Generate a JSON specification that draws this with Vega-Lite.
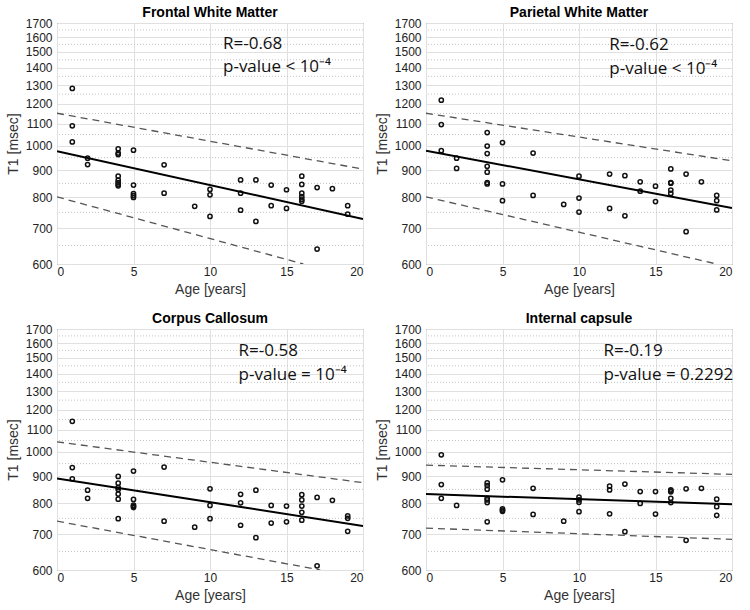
{
  "$schema": "https://vega.github.io/schema/vega-lite/v6.json",
  "padding": {"left": 5, "top": 5, "right": 5, "bottom": 5},
  "background": "white",
  "datasets": {
    "minor": [{"t1": 650}, {"t1": 750}, {"t1": 850}, {"t1": 950}, {"t1": 1050}, {"t1": 1150}, {"t1": 1250}, {"t1": 1350}, {"t1": 1450}, {"t1": 1550}, {"t1": 1650}],
    "pts": [
      {"panel": "FWM", "age": 1, "t1": 1281}, {"panel": "FWM", "age": 1, "t1": 1090}, {"panel": "FWM", "age": 1, "t1": 1017},
      {"panel": "FWM", "age": 2, "t1": 948}, {"panel": "FWM", "age": 2, "t1": 922},
      {"panel": "FWM", "age": 4, "t1": 987}, {"panel": "FWM", "age": 4, "t1": 969}, {"panel": "FWM", "age": 4, "t1": 963}, {"panel": "FWM", "age": 4, "t1": 877}, {"panel": "FWM", "age": 4, "t1": 862}, {"panel": "FWM", "age": 4, "t1": 853}, {"panel": "FWM", "age": 4, "t1": 847}, {"panel": "FWM", "age": 4, "t1": 841},
      {"panel": "FWM", "age": 5, "t1": 981}, {"panel": "FWM", "age": 5, "t1": 844}, {"panel": "FWM", "age": 5, "t1": 813}, {"panel": "FWM", "age": 5, "t1": 806}, {"panel": "FWM", "age": 5, "t1": 800},
      {"panel": "FWM", "age": 7, "t1": 921}, {"panel": "FWM", "age": 7, "t1": 815},
      {"panel": "FWM", "age": 9, "t1": 770},
      {"panel": "FWM", "age": 10, "t1": 828}, {"panel": "FWM", "age": 10, "t1": 809}, {"panel": "FWM", "age": 10, "t1": 737},
      {"panel": "FWM", "age": 12, "t1": 863}, {"panel": "FWM", "age": 12, "t1": 815}, {"panel": "FWM", "age": 12, "t1": 757},
      {"panel": "FWM", "age": 13, "t1": 863}, {"panel": "FWM", "age": 13, "t1": 721},
      {"panel": "FWM", "age": 14, "t1": 844}, {"panel": "FWM", "age": 14, "t1": 772},
      {"panel": "FWM", "age": 15, "t1": 827}, {"panel": "FWM", "age": 15, "t1": 763},
      {"panel": "FWM", "age": 16, "t1": 877}, {"panel": "FWM", "age": 16, "t1": 846}, {"panel": "FWM", "age": 16, "t1": 815}, {"panel": "FWM", "age": 16, "t1": 803}, {"panel": "FWM", "age": 16, "t1": 794}, {"panel": "FWM", "age": 16, "t1": 787},
      {"panel": "FWM", "age": 17, "t1": 835}, {"panel": "FWM", "age": 17, "t1": 640},
      {"panel": "FWM", "age": 18, "t1": 831},
      {"panel": "FWM", "age": 19, "t1": 772}, {"panel": "FWM", "age": 19, "t1": 744},

      {"panel": "PWM", "age": 1, "t1": 1218}, {"panel": "PWM", "age": 1, "t1": 1096}, {"panel": "PWM", "age": 1, "t1": 979},
      {"panel": "PWM", "age": 2, "t1": 948}, {"panel": "PWM", "age": 2, "t1": 907},
      {"panel": "PWM", "age": 4, "t1": 1059}, {"panel": "PWM", "age": 4, "t1": 999}, {"panel": "PWM", "age": 4, "t1": 967}, {"panel": "PWM", "age": 4, "t1": 915}, {"panel": "PWM", "age": 4, "t1": 892}, {"panel": "PWM", "age": 4, "t1": 853}, {"panel": "PWM", "age": 4, "t1": 848},
      {"panel": "PWM", "age": 5, "t1": 1014}, {"panel": "PWM", "age": 5, "t1": 848}, {"panel": "PWM", "age": 5, "t1": 789},
      {"panel": "PWM", "age": 7, "t1": 969}, {"panel": "PWM", "age": 7, "t1": 807},
      {"panel": "PWM", "age": 9, "t1": 776},
      {"panel": "PWM", "age": 10, "t1": 877}, {"panel": "PWM", "age": 10, "t1": 798}, {"panel": "PWM", "age": 10, "t1": 751},
      {"panel": "PWM", "age": 12, "t1": 885}, {"panel": "PWM", "age": 12, "t1": 763},
      {"panel": "PWM", "age": 13, "t1": 879}, {"panel": "PWM", "age": 13, "t1": 739},
      {"panel": "PWM", "age": 14, "t1": 856}, {"panel": "PWM", "age": 14, "t1": 822},
      {"panel": "PWM", "age": 15, "t1": 840}, {"panel": "PWM", "age": 15, "t1": 786},
      {"panel": "PWM", "age": 16, "t1": 905}, {"panel": "PWM", "age": 16, "t1": 853}, {"panel": "PWM", "age": 16, "t1": 851}, {"panel": "PWM", "age": 16, "t1": 826}, {"panel": "PWM", "age": 16, "t1": 814},
      {"panel": "PWM", "age": 17, "t1": 885}, {"panel": "PWM", "age": 17, "t1": 690},
      {"panel": "PWM", "age": 18, "t1": 856},
      {"panel": "PWM", "age": 19, "t1": 807}, {"panel": "PWM", "age": 19, "t1": 789}, {"panel": "PWM", "age": 19, "t1": 758},

      {"panel": "CC", "age": 1, "t1": 1141}, {"panel": "CC", "age": 1, "t1": 934}, {"panel": "CC", "age": 1, "t1": 890},
      {"panel": "CC", "age": 2, "t1": 847}, {"panel": "CC", "age": 2, "t1": 818},
      {"panel": "CC", "age": 4, "t1": 899}, {"panel": "CC", "age": 4, "t1": 873}, {"panel": "CC", "age": 4, "t1": 857}, {"panel": "CC", "age": 4, "t1": 850}, {"panel": "CC", "age": 4, "t1": 833}, {"panel": "CC", "age": 4, "t1": 815}, {"panel": "CC", "age": 4, "t1": 749},
      {"panel": "CC", "age": 5, "t1": 920}, {"panel": "CC", "age": 5, "t1": 814}, {"panel": "CC", "age": 5, "t1": 794}, {"panel": "CC", "age": 5, "t1": 790}, {"panel": "CC", "age": 5, "t1": 786},
      {"panel": "CC", "age": 7, "t1": 936}, {"panel": "CC", "age": 7, "t1": 741},
      {"panel": "CC", "age": 9, "t1": 722},
      {"panel": "CC", "age": 10, "t1": 852}, {"panel": "CC", "age": 10, "t1": 793}, {"panel": "CC", "age": 10, "t1": 749},
      {"panel": "CC", "age": 12, "t1": 832}, {"panel": "CC", "age": 12, "t1": 802}, {"panel": "CC", "age": 12, "t1": 728},
      {"panel": "CC", "age": 13, "t1": 847}, {"panel": "CC", "age": 13, "t1": 690},
      {"panel": "CC", "age": 14, "t1": 793}, {"panel": "CC", "age": 14, "t1": 735},
      {"panel": "CC", "age": 15, "t1": 791}, {"panel": "CC", "age": 15, "t1": 739},
      {"panel": "CC", "age": 16, "t1": 831}, {"panel": "CC", "age": 16, "t1": 812}, {"panel": "CC", "age": 16, "t1": 791}, {"panel": "CC", "age": 16, "t1": 770}, {"panel": "CC", "age": 16, "t1": 744},
      {"panel": "CC", "age": 17, "t1": 821}, {"panel": "CC", "age": 17, "t1": 611},
      {"panel": "CC", "age": 18, "t1": 811},
      {"panel": "CC", "age": 19, "t1": 758}, {"panel": "CC", "age": 19, "t1": 750}, {"panel": "CC", "age": 19, "t1": 709},

      {"panel": "IC", "age": 1, "t1": 987}, {"panel": "IC", "age": 1, "t1": 868}, {"panel": "IC", "age": 1, "t1": 818},
      {"panel": "IC", "age": 2, "t1": 793},
      {"panel": "IC", "age": 4, "t1": 874}, {"panel": "IC", "age": 4, "t1": 864}, {"panel": "IC", "age": 4, "t1": 851}, {"panel": "IC", "age": 4, "t1": 818}, {"panel": "IC", "age": 4, "t1": 812}, {"panel": "IC", "age": 4, "t1": 803}, {"panel": "IC", "age": 4, "t1": 739},
      {"panel": "IC", "age": 5, "t1": 886}, {"panel": "IC", "age": 5, "t1": 781}, {"panel": "IC", "age": 5, "t1": 777}, {"panel": "IC", "age": 5, "t1": 773},
      {"panel": "IC", "age": 7, "t1": 854}, {"panel": "IC", "age": 7, "t1": 763},
      {"panel": "IC", "age": 9, "t1": 741},
      {"panel": "IC", "age": 10, "t1": 822}, {"panel": "IC", "age": 10, "t1": 812}, {"panel": "IC", "age": 10, "t1": 804}, {"panel": "IC", "age": 10, "t1": 772},
      {"panel": "IC", "age": 12, "t1": 862}, {"panel": "IC", "age": 12, "t1": 848}, {"panel": "IC", "age": 12, "t1": 765},
      {"panel": "IC", "age": 13, "t1": 870}, {"panel": "IC", "age": 13, "t1": 708},
      {"panel": "IC", "age": 14, "t1": 842}, {"panel": "IC", "age": 14, "t1": 800},
      {"panel": "IC", "age": 15, "t1": 842}, {"panel": "IC", "age": 15, "t1": 764},
      {"panel": "IC", "age": 16, "t1": 848}, {"panel": "IC", "age": 16, "t1": 845}, {"panel": "IC", "age": 16, "t1": 841}, {"panel": "IC", "age": 16, "t1": 818}, {"panel": "IC", "age": 16, "t1": 803},
      {"panel": "IC", "age": 17, "t1": 852}, {"panel": "IC", "age": 17, "t1": 682},
      {"panel": "IC", "age": 18, "t1": 854},
      {"panel": "IC", "age": 19, "t1": 815}, {"panel": "IC", "age": 19, "t1": 789}, {"panel": "IC", "age": 19, "t1": 760}
    ],
    "fits": [
      {"panel": "FWM", "kind": "fit", "age": 0, "t1": 977}, {"panel": "FWM", "kind": "fit", "age": 20, "t1": 729},
      {"panel": "FWM", "kind": "upper", "age": 0, "t1": 1151}, {"panel": "FWM", "kind": "upper", "age": 20, "t1": 904},
      {"panel": "FWM", "kind": "lower", "age": 0, "t1": 802}, {"panel": "FWM", "kind": "lower", "age": 16.1, "t1": 600},
      {"panel": "PWM", "kind": "fit", "age": 0, "t1": 979}, {"panel": "PWM", "kind": "fit", "age": 20, "t1": 764},
      {"panel": "PWM", "kind": "upper", "age": 0, "t1": 1151}, {"panel": "PWM", "kind": "upper", "age": 20, "t1": 937},
      {"panel": "PWM", "kind": "lower", "age": 0, "t1": 802}, {"panel": "PWM", "kind": "lower", "age": 19, "t1": 600},
      {"panel": "CC", "kind": "fit", "age": 0, "t1": 891}, {"panel": "CC", "kind": "fit", "age": 20, "t1": 726},
      {"panel": "CC", "kind": "upper", "age": 0, "t1": 1044}, {"panel": "CC", "kind": "upper", "age": 20, "t1": 875},
      {"panel": "CC", "kind": "lower", "age": 0, "t1": 741}, {"panel": "CC", "kind": "lower", "age": 17.2, "t1": 600},
      {"panel": "IC", "kind": "fit", "age": 0, "t1": 833}, {"panel": "IC", "kind": "fit", "age": 20, "t1": 797},
      {"panel": "IC", "kind": "upper", "age": 0, "t1": 944}, {"panel": "IC", "kind": "upper", "age": 20, "t1": 907},
      {"panel": "IC", "kind": "lower", "age": 0, "t1": 719}, {"panel": "IC", "kind": "lower", "age": 20, "t1": 685}
    ],
    "notes": [
      {"panel": "FWM", "age": 10.85, "t1": 1517, "label": "R=-0.68"}, {"panel": "FWM", "age": 10.85, "t1": 1376, "label": "p-value < 10⁻⁴"},
      {"panel": "PWM", "age": 11.98, "t1": 1510, "label": "R=-0.62"}, {"panel": "PWM", "age": 11.98, "t1": 1366, "label": "p-value < 10⁻⁴"},
      {"panel": "CC", "age": 11.87, "t1": 1510, "label": "R=-0.58"}, {"panel": "CC", "age": 11.87, "t1": 1366, "label": "p-value = 10⁻⁴"},
      {"panel": "IC", "age": 11.6, "t1": 1510, "label": "R=-0.19"}, {"panel": "IC", "age": 11.6, "t1": 1366, "label": "p-value = 0.2292"}
    ]
  },
  "concat": [
    {
      "title": "Frontal White Matter", "width": 306, "height": 241,
      "layer": [
        {"data": {"name": "minor"}, "mark": {"type": "rule", "color": "#c4c4c4", "strokeDash": [1, 2], "strokeWidth": 1},
         "encoding": {"y": {"field": "t1", "type": "quantitative", "scale": {"type": "log", "domain": [600, 1700], "nice": false}, "axis": {"title": "T1 [msec]", "values": [600, 700, 800, 900, 1000, 1100, 1200, 1300, 1400, 1500, 1600, 1700], "format": "d"}}}},
        {"data": {"name": "pts"}, "transform": [{"filter": "datum.panel === 'FWM'"}], "mark": {"type": "point", "shape": "circle", "filled": false, "size": 18, "strokeWidth": 1.5, "color": "#111", "opacity": 1},
         "encoding": {"x": {"field": "age", "type": "quantitative", "scale": {"domain": [0, 20], "nice": false}, "axis": {"title": "Age [years]", "values": [0, 5, 10, 15, 20]}}, "y": {"field": "t1", "type": "quantitative"}}},
        {"data": {"name": "fits"}, "transform": [{"filter": "datum.panel === 'FWM' && datum.kind === 'fit'"}], "mark": {"type": "line", "color": "#000", "strokeWidth": 2, "clip": true},
         "encoding": {"x": {"field": "age", "type": "quantitative"}, "y": {"field": "t1", "type": "quantitative"}}},
        {"data": {"name": "fits"}, "transform": [{"filter": "datum.panel === 'FWM' && datum.kind !== 'fit'"}], "mark": {"type": "line", "color": "#555", "strokeWidth": 1.3, "strokeDash": [7, 5], "clip": true},
         "encoding": {"x": {"field": "age", "type": "quantitative"}, "y": {"field": "t1", "type": "quantitative"}, "detail": {"field": "kind"}}},
        {"data": {"name": "notes"}, "transform": [{"filter": "datum.panel === 'FWM'"}], "mark": {"type": "text", "align": "left", "baseline": "alphabetic", "font": "Open Sans", "fontSize": 17, "color": "#111"},
         "encoding": {"x": {"field": "age", "type": "quantitative"}, "y": {"field": "t1", "type": "quantitative"}, "text": {"field": "label"}}}
      ]
    },
    {
      "title": "Parietal White Matter", "width": 306, "height": 241,
      "layer": [
        {"data": {"name": "minor"}, "mark": {"type": "rule", "color": "#c4c4c4", "strokeDash": [1, 2], "strokeWidth": 1},
         "encoding": {"y": {"field": "t1", "type": "quantitative", "scale": {"type": "log", "domain": [600, 1700], "nice": false}, "axis": {"title": "T1 [msec]", "values": [600, 700, 800, 900, 1000, 1100, 1200, 1300, 1400, 1500, 1600, 1700], "format": "d"}}}},
        {"data": {"name": "pts"}, "transform": [{"filter": "datum.panel === 'PWM'"}], "mark": {"type": "point", "shape": "circle", "filled": false, "size": 18, "strokeWidth": 1.5, "color": "#111", "opacity": 1},
         "encoding": {"x": {"field": "age", "type": "quantitative", "scale": {"domain": [0, 20], "nice": false}, "axis": {"title": "Age [years]", "values": [0, 5, 10, 15, 20]}}, "y": {"field": "t1", "type": "quantitative"}}},
        {"data": {"name": "fits"}, "transform": [{"filter": "datum.panel === 'PWM' && datum.kind === 'fit'"}], "mark": {"type": "line", "color": "#000", "strokeWidth": 2, "clip": true},
         "encoding": {"x": {"field": "age", "type": "quantitative"}, "y": {"field": "t1", "type": "quantitative"}}},
        {"data": {"name": "fits"}, "transform": [{"filter": "datum.panel === 'PWM' && datum.kind !== 'fit'"}], "mark": {"type": "line", "color": "#555", "strokeWidth": 1.3, "strokeDash": [7, 5], "clip": true},
         "encoding": {"x": {"field": "age", "type": "quantitative"}, "y": {"field": "t1", "type": "quantitative"}, "detail": {"field": "kind"}}},
        {"data": {"name": "notes"}, "transform": [{"filter": "datum.panel === 'PWM'"}], "mark": {"type": "text", "align": "left", "baseline": "alphabetic", "font": "Open Sans", "fontSize": 17, "color": "#111"},
         "encoding": {"x": {"field": "age", "type": "quantitative"}, "y": {"field": "t1", "type": "quantitative"}, "text": {"field": "label"}}}
      ]
    },
    {
      "title": "Corpus Callosum", "width": 306, "height": 241,
      "layer": [
        {"data": {"name": "minor"}, "mark": {"type": "rule", "color": "#c4c4c4", "strokeDash": [1, 2], "strokeWidth": 1},
         "encoding": {"y": {"field": "t1", "type": "quantitative", "scale": {"type": "log", "domain": [600, 1700], "nice": false}, "axis": {"title": "T1 [msec]", "values": [600, 700, 800, 900, 1000, 1100, 1200, 1300, 1400, 1500, 1600, 1700], "format": "d"}}}},
        {"data": {"name": "pts"}, "transform": [{"filter": "datum.panel === 'CC'"}], "mark": {"type": "point", "shape": "circle", "filled": false, "size": 18, "strokeWidth": 1.5, "color": "#111", "opacity": 1},
         "encoding": {"x": {"field": "age", "type": "quantitative", "scale": {"domain": [0, 20], "nice": false}, "axis": {"title": "Age [years]", "values": [0, 5, 10, 15, 20]}}, "y": {"field": "t1", "type": "quantitative"}}},
        {"data": {"name": "fits"}, "transform": [{"filter": "datum.panel === 'CC' && datum.kind === 'fit'"}], "mark": {"type": "line", "color": "#000", "strokeWidth": 2, "clip": true},
         "encoding": {"x": {"field": "age", "type": "quantitative"}, "y": {"field": "t1", "type": "quantitative"}}},
        {"data": {"name": "fits"}, "transform": [{"filter": "datum.panel === 'CC' && datum.kind !== 'fit'"}], "mark": {"type": "line", "color": "#555", "strokeWidth": 1.3, "strokeDash": [7, 5], "clip": true},
         "encoding": {"x": {"field": "age", "type": "quantitative"}, "y": {"field": "t1", "type": "quantitative"}, "detail": {"field": "kind"}}},
        {"data": {"name": "notes"}, "transform": [{"filter": "datum.panel === 'CC'"}], "mark": {"type": "text", "align": "left", "baseline": "alphabetic", "font": "Open Sans", "fontSize": 17, "color": "#111"},
         "encoding": {"x": {"field": "age", "type": "quantitative"}, "y": {"field": "t1", "type": "quantitative"}, "text": {"field": "label"}}}
      ]
    },
    {
      "title": "Internal capsule", "width": 306, "height": 241,
      "layer": [
        {"data": {"name": "minor"}, "mark": {"type": "rule", "color": "#c4c4c4", "strokeDash": [1, 2], "strokeWidth": 1},
         "encoding": {"y": {"field": "t1", "type": "quantitative", "scale": {"type": "log", "domain": [600, 1700], "nice": false}, "axis": {"title": "T1 [msec]", "values": [600, 700, 800, 900, 1000, 1100, 1200, 1300, 1400, 1500, 1600, 1700], "format": "d"}}}},
        {"data": {"name": "pts"}, "transform": [{"filter": "datum.panel === 'IC'"}], "mark": {"type": "point", "shape": "circle", "filled": false, "size": 18, "strokeWidth": 1.5, "color": "#111", "opacity": 1},
         "encoding": {"x": {"field": "age", "type": "quantitative", "scale": {"domain": [0, 20], "nice": false}, "axis": {"title": "Age [years]", "values": [0, 5, 10, 15, 20]}}, "y": {"field": "t1", "type": "quantitative"}}},
        {"data": {"name": "fits"}, "transform": [{"filter": "datum.panel === 'IC' && datum.kind === 'fit'"}], "mark": {"type": "line", "color": "#000", "strokeWidth": 2, "clip": true},
         "encoding": {"x": {"field": "age", "type": "quantitative"}, "y": {"field": "t1", "type": "quantitative"}}},
        {"data": {"name": "fits"}, "transform": [{"filter": "datum.panel === 'IC' && datum.kind !== 'fit'"}], "mark": {"type": "line", "color": "#555", "strokeWidth": 1.3, "strokeDash": [7, 5], "clip": true},
         "encoding": {"x": {"field": "age", "type": "quantitative"}, "y": {"field": "t1", "type": "quantitative"}, "detail": {"field": "kind"}}},
        {"data": {"name": "notes"}, "transform": [{"filter": "datum.panel === 'IC'"}], "mark": {"type": "text", "align": "left", "baseline": "alphabetic", "font": "Open Sans", "fontSize": 17, "color": "#111"},
         "encoding": {"x": {"field": "age", "type": "quantitative"}, "y": {"field": "t1", "type": "quantitative"}, "text": {"field": "label"}}}
      ]
    }
  ],
  "columns": 2,
  "spacing": {"row": 14, "column": 10},
  "config": {
    "view": {"stroke": "#555", "strokeWidth": 1},
    "font": "Liberation Sans",
    "title": {"font": "Liberation Sans", "fontSize": 14, "fontWeight": "bold", "color": "#000", "offset": -3, "anchor": "middle"},
    "axis": {
      "labelFont": "Liberation Sans", "labelFontSize": 12, "labelColor": "#222",
      "titleFont": "Liberation Sans", "titleFontSize": 14, "titleFontWeight": "normal", "titleColor": "#333",
      "grid": true, "gridColor": "#e0e0e0", "gridWidth": 1,
      "domain": false, "ticks": false, "labelPadding": 4
    },
    "axisX": {"titlePadding": 5, "labelPadding": 2},
    "axisY": {"titlePadding": 5, "labelPadding": 5}
  }
}
